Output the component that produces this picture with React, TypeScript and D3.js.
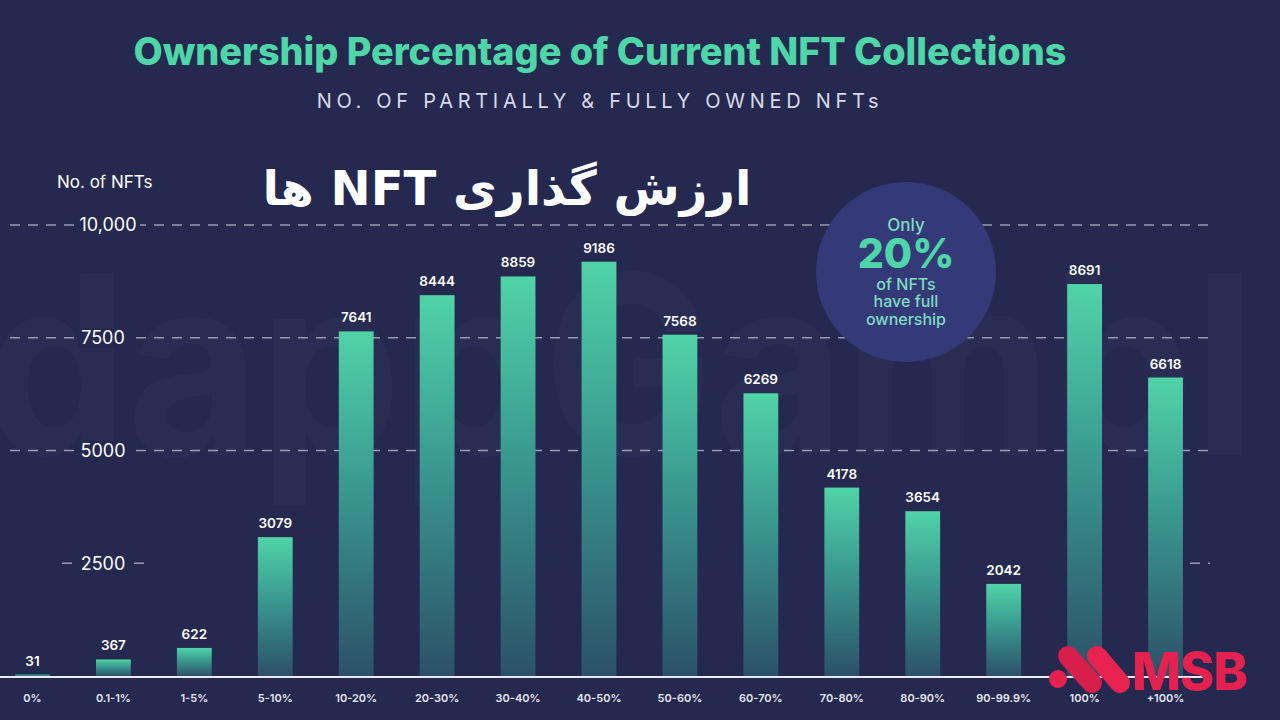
import React from "react";
import * as d3 from "d3";

const categories = ["0%", "0.1-1%", "1-5%", "5-10%", "10-20%", "20-30%", "30-40%", "40-50%", "50-60%", "60-70%", "70-80%", "80-90%", "90-99.9%", "100%", "+100%"];
const values = [31, 367, 622, 3079, 7641, 8444, 8859, 9186, 7568, 6269, 4178, 3654, 2042, 8691, 6618];
const yTicks = [2500, 5000, 7500, 10000];
const yTickLabels = ["2500", "5000", "7500", "10,000"];

const W = 1280;
const H = 720;
const BG = "#25284f";
const TEAL = "#4fd6a8";

export default function App() {
  const x = d3.scaleBand<string>().domain(categories).range([-8, 1206]).paddingInner(0.57).paddingOuter(0.285);
  const y = d3.scaleLinear().domain([0, 10000]).range([676, 225]);
  const bw = x.bandwidth();
  const font = "Inter, 'Noto Sans', sans-serif";

  return (
    <svg width={W} height={H} style={{ position: "absolute", left: 0, top: 0, display: "block" }} fontFamily={font}>
      <defs>
        <linearGradient id="barGrad" x1="0" y1="0" x2="0" y2="1">
          <stop offset="0%" stopColor="#50d3a6" />
          <stop offset="45%" stopColor="#3a9990" />
          <stop offset="100%" stopColor="#2c5169" />
        </linearGradient>
      </defs>
      <rect x={0} y={0} width={W} height={H} fill={BG} />
      {/* watermark */}
      <text x={-15} y={455} fontSize={250} fontWeight={700} fill="#ffffff" opacity={0.025} textLength={1270} lengthAdjust="spacingAndGlyphs">dappGambl</text>

      {/* title */}
      <text x={600} y={65} textAnchor="middle" fontSize={37.8} fontWeight={800} fill={TEAL}>Ownership Percentage of Current NFT Collections</text>
      <text x={600} y={108} textAnchor="middle" fontSize={20} fill="#d8d9ea" letterSpacing={4.7}>NO. OF PARTIALLY &amp; FULLY OWNED NFTs</text>

      {/* gridlines */}
      {yTicks.map((t, i) => {
        const yy = y(t);
        const partial = t === 2500;
        return (
          <g key={t}>
            {partial ? (
              <>
                <line x1={62} x2={150} y1={yy} y2={yy} stroke="#c9cbe0" strokeOpacity={0.7} strokeWidth={1.3} strokeDasharray="10 8" />
                <line x1={1190} x2={1210} y1={yy} y2={yy} stroke="#c9cbe0" strokeOpacity={0.7} strokeWidth={1.3} strokeDasharray="10 8" />
              </>
            ) : (
              <line x1={10} x2={1210} y1={yy} y2={yy} stroke="#c9cbe0" strokeOpacity={0.7} strokeWidth={1.3} strokeDasharray="10 8" />
            )}
            <rect x={t === 10000 ? 76 : 78} y={yy - 10} width={t === 10000 ? 64 : 50} height={20} fill={BG} />
            <text x={t === 10000 ? 108 : 103} y={yy} dy="0.35em" textAnchor="middle" fontSize={18} fill="#ffffff">{yTickLabels[i]}</text>
          </g>
        );
      })}

      <text x={57} y={188} fontSize={17} fill="#ffffff">No. of NFTs</text>

      {/* Persian heading */}
      <text x={507} y={205} textAnchor="middle" direction="rtl" fontSize={48} fontWeight={700} fill="#ffffff" fontFamily="'DejaVu Sans', sans-serif">ارزش گذاری NFT ها</text>

      {/* bars */}
      {categories.map((c, i) => {
        const v = values[i];
        const x0 = x(c)!;
        const top = y(v);
        return (
          <g key={c}>
            <rect x={x0} y={top} width={bw} height={Math.max(676 - top, 1.5)} fill="url(#barGrad)" />
            <text x={x0 + bw / 2} y={top - 9} textAnchor="middle" fontSize={13.5} fontWeight={600} fill="#ffffff">{v}</text>
            <text x={x0 + bw / 2} y={702} textAnchor="middle" fontSize={11} fontWeight={600} fill="#e4e5f0">{c}</text>
          </g>
        );
      })}

      {/* baseline */}
      <line x1={0} x2={1208} y1={677} y2={677} stroke="#e8eaf6" strokeWidth={2} />

      {/* bubble */}
      <circle cx={906} cy={272} r={90} fill="#343a78" />
      <text x={906} y={231} textAnchor="middle" fontSize={17} fontWeight={500} fill="#7fdcc2">Only</text>
      <text x={906} y={268} textAnchor="middle" fontSize={41} fontWeight={800} fill={TEAL}>20%</text>
      <text x={906} y={290} textAnchor="middle" fontSize={16} fontWeight={500} fill="#7fdcc2">of NFTs</text>
      <text x={906} y={307} textAnchor="middle" fontSize={16} fontWeight={500} fill="#7fdcc2">have full</text>
      <text x={906} y={325} textAnchor="middle" fontSize={16} fontWeight={500} fill="#7fdcc2">ownership</text>

      {/* MSB logo */}
      <g>
        <circle cx={1058} cy={679} r={9} fill="#e5214f" />
        <line x1={1068} y1={656} x2={1092} y2={683} stroke="#d81e4a" strokeWidth={20} strokeLinecap="round" />
        <line x1={1097} y1={656} x2={1120} y2={683} stroke="#e8234f" strokeWidth={20} strokeLinecap="round" />
        <text x={1132} y={690} fontSize={52} fontWeight={800} fill="#e5214f" letterSpacing={-1}>MSB</text>
      </g>
    </svg>
  );
}
